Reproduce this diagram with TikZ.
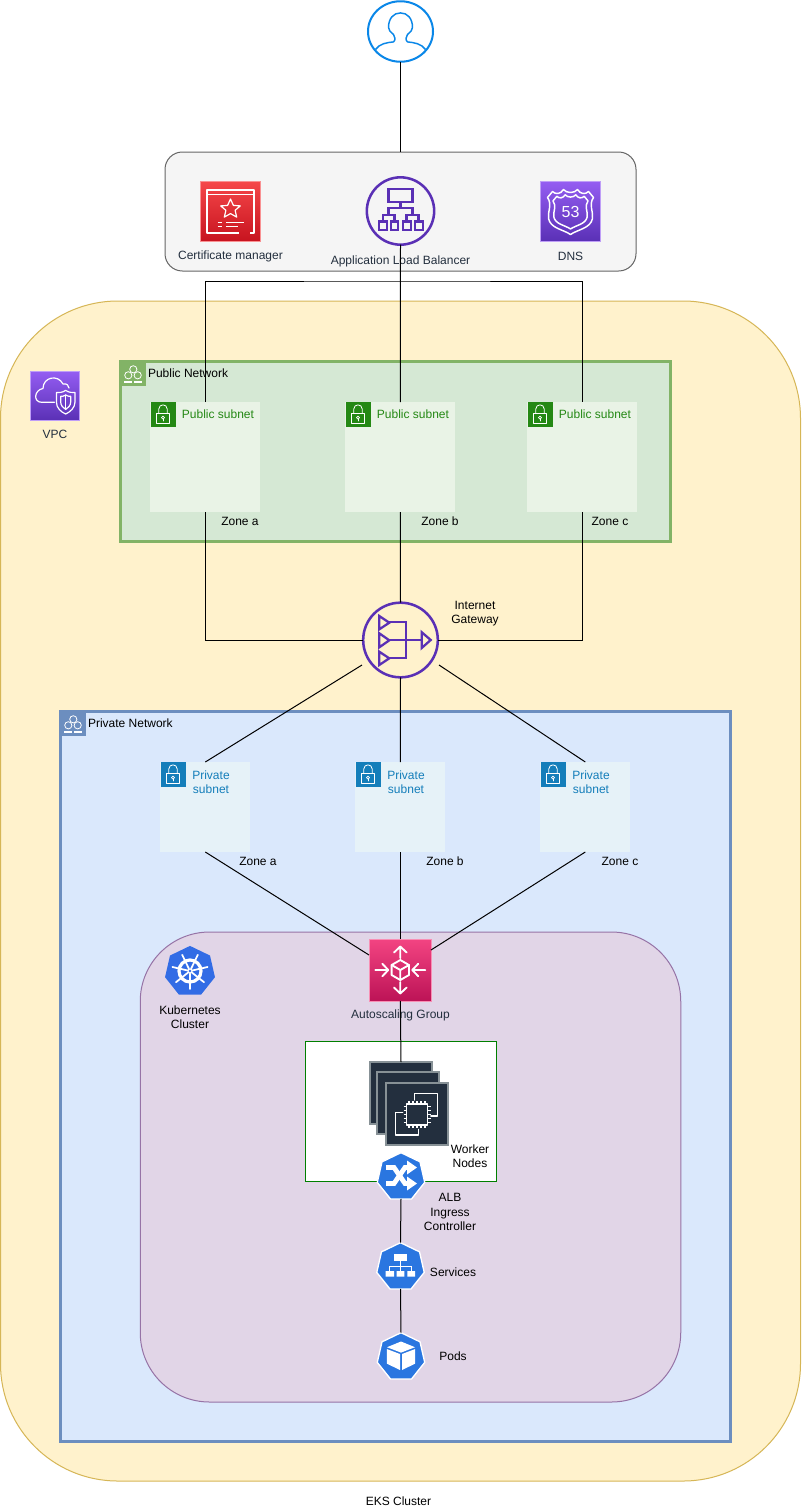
\documentclass[tikz,border=0pt]{standalone}
\usepackage{fontspec}
\setmainfont{Liberation Sans}
\usetikzlibrary{shapes.geometric}
\definecolor{vpcF}{HTML}{FFF2CC}\definecolor{vpcS}{HTML}{D6B656}
\definecolor{pubF}{HTML}{D5E8D4}\definecolor{pubS}{HTML}{82B366}
\definecolor{priF}{HTML}{DAE8FC}\definecolor{priS}{HTML}{6C8EBF}
\definecolor{k8F}{HTML}{E1D5E7}\definecolor{k8S}{HTML}{9673A6}
\definecolor{grayF}{HTML}{F5F5F5}\definecolor{grayS}{HTML}{666666}
\definecolor{subG}{HTML}{E9F3E6}\definecolor{iconG}{HTML}{248814}
\definecolor{subB}{HTML}{E6F2F8}\definecolor{iconB}{HTML}{147EBA}
\definecolor{awsInk}{HTML}{232F3E}\definecolor{ec2S}{HTML}{879196}
\definecolor{purp}{HTML}{5A30B5}\definecolor{purpT}{HTML}{945DF2}
\definecolor{redT}{HTML}{F54749}\definecolor{redB}{HTML}{C7131F}
\definecolor{pinkT}{HTML}{F34482}\definecolor{pinkB}{HTML}{BC1356}
\definecolor{kube}{HTML}{2A76E0}\definecolor{kubeC}{HTML}{326CE5}
\definecolor{userB}{HTML}{0A87E8}\definecolor{workG}{HTML}{007F00}
\tikzset{
  every node/.style={inner sep=0pt,outer sep=0pt,font=\fontsize{9}{10.6}\selectfont},
  sized/.style 2 args={minimum width=#1*0.75pt,minimum height=#2*0.75pt},
  frame/.style={rectangle,draw=#1,line width=.75pt},
  net/.style={rectangle,draw=#1,line width=2.25pt},
  lbl/.style={align=center,text=black},
  awslbl/.style={align=center,text=awsInk},
  link/.style={draw=black,line width=.75pt},
  wline/.style={draw=white,line width=1.1pt,line cap=round,line join=round},
  pline/.style={draw=purp,line width=1.8pt},
  badge/.style={rectangle,minimum size=18.75pt,fill=#1},
  hept/.style={regular polygon,regular polygon sides=7,minimum size=36.5pt,fill=kube,draw=white,line width=1pt},
  ec2card/.style={rectangle,sized={62}{62},fill=awsInk,draw=ec2S,line width=1.5pt},
  lockglyph/.pic={
    \draw[wline,line width=.6pt] (-6.7,-.5) rectangle (6.7,9);
    \draw[wline,line width=.6pt] (-4.2,-.5) -- (-4.2,-5) .. controls (-4.2,-10.5) and (4.2,-10.5) .. (4.2,-5) -- (4.2,-.5);
    \draw[wline,line width=.6pt] (0,3.6) circle[radius=1.5];
    \draw[wline,line width=.6pt] (0,5.1) -- (0,7);
  },
  groupglyph/.pic={
    \draw[wline,line width=.6pt] (.8,-3.7) circle[radius=3.6];
    \draw[wline,line width=.6pt] (-4.2,2.3) circle[radius=3.6];
    \draw[wline,line width=.6pt] (5.2,2.3) circle[radius=3.6];
    \fill[white] (-8.2,7.6) rectangle (-.2,10);
    \fill[white] (1.5,7.6) rectangle (9.5,10);
  },
  shieldglyph/.pic={
    \draw[wline,line width=1.1pt] (0,23) .. controls (-7,18) and (-20,17) .. (-22,7)
      .. controls (-23,0) and (-18,-7) .. (-23,-14) -- (-18,-20)
      .. controls (-15,-17) and (-10,-17) .. (-7,-22)
      .. controls (-4,-18) and (4,-18) .. (7,-22)
      .. controls (10,-17) and (15,-17) .. (18,-20) -- (23,-14)
      .. controls (18,-7) and (23,0) .. (22,7)
      .. controls (20,17) and (7,18) .. (0,23) -- cycle;
  }
}
\begin{document}
\begin{tikzpicture}[x=0.75pt,y=-0.75pt]
\useasboundingbox (0,0) rectangle (801,1510);
\fill[white] (0,0) rectangle (801,1510);

% containers
\node[frame=vpcS,fill=vpcF,sized={800}{1180},rounded corners=88pt] (vpcbox) at (400.5,891) {};
\node[frame=grayS,fill=grayF,sized={471}{119},rounded corners=13pt] (edge) at (400.5,211.5) {};
\node[net=pubS,fill=pubF,sized={550}{180}] (pubnet) at (395.5,451.5) {};
\node[net=priS,fill=priF,sized={670}{730}] (prinet) at (395.5,1076) {};
\node[frame=k8S,fill=k8F,sized={540.5}{470},rounded corners=52pt] (k8box) at (410.5,1167) {};
\node[rectangle,draw=workG,line width=.75pt,fill=white,sized={191.5}{140.5}] (workbox) at (400.8,1111.3) {};

% user
\node[ellipse,draw=userB,fill=white,line width=1.5pt,sized={65}{60.5}] (user) at (400.5,31.5) {};
\begin{scope}[shift={(400.5,31.5)}]
\draw[draw=userB,line width=1.1pt,line join=round] (-25,18) .. controls (-21,12) and (-13,11) .. (-7,10.4)
  .. controls (-5,9) and (-5,5) .. (-7,3) .. controls (-10,0) and (-12,-1) .. (-12,-4)
  .. controls (-12,-13) and (-7,-18.6) .. (0,-18.6) .. controls (7,-18.6) and (12,-13) .. (12,-4)
  .. controls (12,-1) and (10,0) .. (7,3) .. controls (5,5) and (5,9) .. (7,10.4)
  .. controls (13,11) and (21,12) .. (25,18);
\end{scope}

% certificate manager
\node[rectangle,sized={60}{60},top color=redT,bottom color=redB,draw=redT!60!white,line width=.75pt] (cert) at (230.5,211.5) {};
\begin{scope}[shift={(230.5,211.5)}]
\draw[wline,line width=.9pt,line cap=butt] (19.5,21.5) -- (23.5,21.5) -- (23.5,-21.5) -- (-23.5,-21.5) -- (-23.5,21.5) -- (8,21.5);
\draw[wline,line width=.9pt,line cap=butt] (-23.5,-17) -- (23.5,-17);
\draw[wline,line width=.9pt,line cap=butt] (-13,11) -- (-9,11) (-4.5,11) -- (13.5,11) (-13,15) -- (-9,15) (-4.5,15) -- (7,15);
\end{scope}
\begin{scope}[shift={(230.5,209)}]
\draw[wline,line width=.9pt] (0,-10) -- (2.9,-3.6) -- (9.8,-3.1) -- (4.6,1.3) -- (6.2,8.1) -- (0,4.6) -- (-6.2,8.1) -- (-4.6,1.3) -- (-9.8,-3.1) -- (-2.9,-3.6) -- cycle;
\end{scope}
\node[awslbl] (certl) at (230.5,256) {Certificate manager};

% application load balancer
\node[circle,draw=purp,line width=1.9pt,minimum size=50.5pt] (alb) at (400.5,211) {};
\begin{scope}[shift={(400.5,211.3)}]
\draw[pline,line join=miter] (-12,-22.5) rectangle (12,-9.5);
\draw[pline,line width=1.6pt] (0,-9.5) -- (0,-3.5) (-12,3.5) -- (-12,-3.5) -- (12,-3.5) -- (12,3.5)
  (-17.5,10.3) -- (-17.5,3.5) -- (-6,3.5) -- (-6,10.3) (6,10.3) -- (6,3.5) -- (18,3.5) -- (18,10.3);
\draw[pline,line width=1.7pt] (-21.5,10.3) rectangle (-13.2,18.7) (-9.8,10.3) rectangle (-2.2,18.7) (2.2,10.3) rectangle (10.2,18.7) (14.5,10.3) rectangle (22.2,18.7);
\end{scope}
\node[awslbl] (albl) at (400.5,261) {Application Load Balancer};

% route 53
\node[rectangle,sized={60}{60},top color=purpT,bottom color=purp,draw=purpT!60!white,line width=.75pt] (dns) at (570.5,211.5) {};
\pic at (570.5,211.5) {shieldglyph};
\pic[scale=.76] at (570.5,211.5) {shieldglyph};
\node[text=white,font=\fontsize{12}{12}\selectfont] (dnsn) at (570.5,212) {53};
\node[awslbl] (dnsl) at (570.5,256) {DNS};

% vpc
\node[rectangle,sized={49}{49},top color=purpT,bottom color=purp,draw=purpT!60!white,line width=.75pt] (vpc) at (55,396) {};
\begin{scope}[shift={(55,396)}]
\draw[wline,line width=.9pt] (-.5,6.3) -- (-13.3,6.3) .. controls (-22,6.3) and (-21,-6) .. (-12,-7.5)
  .. controls (-12,-19) and (3,-22) .. (8,-12) .. controls (12,-13) and (14,-10) .. (14,-8);
\draw[wline,line width=.9pt] (10.7,-5.6) .. controls (14,-3.5) and (17,-3.2) .. (20,-3.5) -- (20,6)
  .. controls (20,12) and (15,16) .. (10.7,18) .. controls (6,16) and (1.4,12) .. (1.4,6) -- (1.4,-3.5)
  .. controls (4.4,-3.2) and (7.4,-3.5) .. (10.7,-5.6) -- cycle;
\draw[wline,line width=.9pt] (10.7,-1) .. controls (12.5,.2) and (14,.4) .. (15.7,.3) -- (15.7,6)
  .. controls (15.7,9.5) and (13,12) .. (10.7,13.4) .. controls (8.2,12) and (5.7,9.5) .. (5.7,6) -- (5.7,.3)
  .. controls (7.4,.4) and (9,.2) .. (10.7,-1) -- cycle;
\draw[wline,line width=.9pt] (10.7,-1) -- (10.7,13.4);
\end{scope}
\node[awslbl] (vpcl) at (55,434) {VPC};

% public network
\node[rectangle,minimum size=19.5pt,fill=pubS] (pubicon) at (132.5,373) {};
\pic at (132.5,373) {groupglyph};
\node[lbl,anchor=west] (publ) at (148,373) {Public Network};
\node[rectangle,fill=subG,sized={110}{110}] (pubA) at (205.3,457) {};
\node[rectangle,fill=subG,sized={110}{110}] (pubB) at (400.3,457) {};
\node[rectangle,fill=subG,sized={110}{110}] (pubC) at (582.3,457) {};
\foreach \n/\x/\t in {A/163/218,B/358/413,C/540/595}{
  \node[badge=iconG] (pubI\n) at (\x,414) {};
  \pic at (\x,414) {lockglyph};
  \node[text=iconG,align=center] (pubT\n) at (\t,414) {Public subnet};
}
\node[lbl] (zpa) at (240,521) {Zone a};
\node[lbl] (zpb) at (440,521) {Zone b};
\node[lbl] (zpc) at (610,521) {Zone c};

% internet gateway
\node[circle,draw=purp,line width=1.9pt,minimum size=56pt] (igw) at (400.5,640) {};
\begin{scope}[shift={(400.5,640)}]
\draw[pline,line width=1.7pt,line join=miter] (-21.2,-24) -- (-11.2,-17.3) -- (-21.2,-10.7) -- cycle
  (-21.2,-6.7) -- (-11.2,.3) -- (-21.2,7.3) -- cycle
  (-21.2,11.7) -- (-11.2,18.3) -- (-21.2,25) -- cycle
  (21.2,-7.8) -- (30.2,0) -- (21.2,8) -- cycle;
\draw[pline,line width=1.7pt] (-11.2,-18) -- (5.5,-18) -- (5.5,18.3) -- (-11.2,18.3) (-11.2,.2) -- (21.2,.2);
\end{scope}
\node[lbl] (igwl) at (475,614) {Internet\\Gateway};

% private network
\node[rectangle,minimum size=19.5pt,fill=priS] (priicon) at (72.5,723) {};
\pic at (72.5,723) {groupglyph};
\node[lbl,anchor=west] (pril) at (88,723) {Private Network};
\node[rectangle,fill=subB,sized={90}{90}] (priA) at (205.3,807) {};
\node[rectangle,fill=subB,sized={90}{90}] (priB) at (400.3,807) {};
\node[rectangle,fill=subB,sized={90}{90}] (priC) at (585.3,807) {};
\foreach \n/\x/\t in {A/173/211,B/368/406,C/553/591}{
  \node[badge=iconB] (priI\n) at (\x,774) {};
  \pic at (\x,774) {lockglyph};
  \node[text=iconB,align=center] (priT\n) at (\t,782.5) {Private\\subnet};
}
\node[lbl] (zqa) at (258,861.5) {Zone a};
\node[lbl] (zqb) at (445,861.5) {Zone b};
\node[lbl] (zqc) at (620,861.5) {Zone c};

% kubernetes
\node[regular polygon,regular polygon sides=7,minimum size=38.4pt,fill=kubeC] (k8s) at (190,971.5) {};
\begin{scope}[shift={(190,971)}]
\draw[draw=white,line width=2.4pt] (0,0) circle[radius=11];
\foreach \a in {90,141.4,192.9,244.3,295.7,347.1,38.6}{
  \draw[draw=white,line width=1.3pt,line cap=round] (\a:2.5) -- (\a:18);
}
\fill[white] (0,0) circle[radius=2.6];
\fill[kubeC] (0,0) circle[radius=1.4];
\end{scope}
\node[lbl] (k8l) at (190,1017.5) {Kubernetes\\Cluster};

% autoscaling group
\node[rectangle,sized={62}{62},top color=pinkT,bottom color=pinkB,draw=pinkT!60!white,line width=.5pt] (asg) at (400.3,970) {};
\begin{scope}[shift={(400.3,970)}]
\draw[wline,line width=1.4pt] (0,-12) -- (0,-23.5) (-6.3,-17.5) -- (0,-23.5) -- (6.3,-17.5);
\draw[wline,line width=1.4pt] (0,12) -- (0,23.5) (-6.3,17.5) -- (0,23.5) -- (6.3,17.5);
\draw[wline,line width=1.4pt] (-12,0) -- (-25,0) (-18,-6.3) -- (-12,0) -- (-18,6.3);
\draw[wline,line width=1.4pt] (12,0) -- (25,0) (18,-6.3) -- (12,0) -- (18,6.3);
\draw[wline,line width=1.4pt] (0,-10) -- (8.7,-5) -- (8.7,5) -- (0,10) -- (-8.7,5) -- (-8.7,-5) -- cycle;
\draw[wline,line width=1.4pt] (-8.7,-5) -- (0,0) -- (8.7,-5) (0,0) -- (0,10);
\end{scope}
\node[awslbl] (asgl) at (400.5,1015) {Autoscaling Group};

% worker nodes
\node[ec2card] (ec2a) at (401,1093) {};
\node[ec2card] (ec2b) at (407.5,1103) {};
\node[ec2card] (ec2c) at (416.5,1114) {};
\begin{scope}[shift={(416.5,1114)}]
\draw[wline,line width=.9pt] (-2,-14) -- (-2,-20.7) -- (21,-20.7) -- (21,2) -- (14.3,2);
\draw[wline,line width=.9pt] (-13.8,-1.3) -- (-20.8,-1.3) -- (-20.8,21) -- (1.8,21) -- (1.8,15.3);
\draw[wline,line width=.9pt] (-10,-10) rectangle (11,11);
\foreach \d in {-7.5,-3.5,.5,4.5,8.5}{
  \draw[draw=white,line width=.8pt] (\d,-13) -- (\d,-10) (\d,11) -- (\d,14);
  \draw[draw=white,line width=.8pt] (-13,\d) -- (-10,\d) (11,\d) -- (14,\d);
}
\end{scope}
\node[lbl] (workl) at (470,1156) {Worker\\Nodes};

% ingress controller
\node[hept] (ing) at (401,1177) {};
\begin{scope}[shift={(401,1175.5)}]
\draw[draw=white,line width=3.6pt,line join=miter] (-15,-8) -- (-7,-8) -- (4,8) -- (8,8);
\draw[draw=white,line width=3.6pt,line join=miter] (-15,8) -- (-7,8) -- (4,-8) -- (8,-8);
\fill[white] (6,-15) -- (16,-8) -- (6,-1) -- cycle;
\fill[white] (6,1) -- (16,8) -- (6,15) -- cycle;
\end{scope}
\node[lbl] (ingl) at (450,1212) {ALB\\Ingress\\Controller};

% services
\node[hept] (svc) at (400.5,1267) {};
\begin{scope}[shift={(400.5,1267)}]
\fill[white] (-6.8,-12.7) rectangle (6.8,-6);
\draw[draw=white,line width=.9pt] (0,-6) -- (0,-.3) (-10.7,4) -- (-10.7,-.3) -- (10.7,-.3) -- (10.7,4) (0,-.3) -- (0,4);
\fill[white] (-14.8,4) rectangle (-6.5,9.7) (-3.8,4) rectangle (3.8,9.7) (6.8,4) rectangle (14.5,9.7);
\end{scope}
\node[lbl] (svcl) at (453,1272.5) {Services};

% pods
\node[hept] (pod) at (401,1357) {};
\begin{scope}[shift={(401,1356)}]
\fill[white] (0,-14.5) -- (14,-8.8) -- (0,-3.4) -- (-14,-8.8) -- cycle;
\fill[white] (-14.2,-7) -- (-1,-2) -- (-1,14) -- (-14.2,7.6) -- cycle;
\fill[white] (14.2,-7) -- (1,-2) -- (1,14) -- (14.2,7.6) -- cycle;
\end{scope}
\node[lbl] (podl) at (453,1356.5) {Pods};

\node[lbl] (eksl) at (398.5,1501) {EKS Cluster};

% connector end points
\coordinate (busC) at (400.3,281);
\coordinate (igwL) at (362,665);
\coordinate (igwR) at (439,665);
\coordinate (asgL) at (369,955);
\coordinate (asgR) at (431,950);

% connectors
\draw[link] (user.south) -- (edge.north);
\draw[link] (alb.south) -- (pubB.north);
\draw[link] (pubA.north) |- (busC) -| (pubC.north);
\draw[link] (pubA.south) |- (igw.west);
\draw[link] (pubB.south) -- (igw.north);
\draw[link] (pubC.south) |- (igw.east);
\draw[link] (igw.south) -- (priB.north);
\draw[link] (igwL) -- (priA.north);
\draw[link] (igwR) -- (priC.north);
\draw[link] (priA.south) -- (asgL);
\draw[link] (priB.south) -- (asg.north);
\draw[link] (priC.south) -- (asgR);
\draw[link] (asg.south) -- (ec2a.north);
\draw[link] (ing.south) -- (svc.north);
\draw[link] (svc.south) -- (pod.north);
\end{tikzpicture}
\end{document}
